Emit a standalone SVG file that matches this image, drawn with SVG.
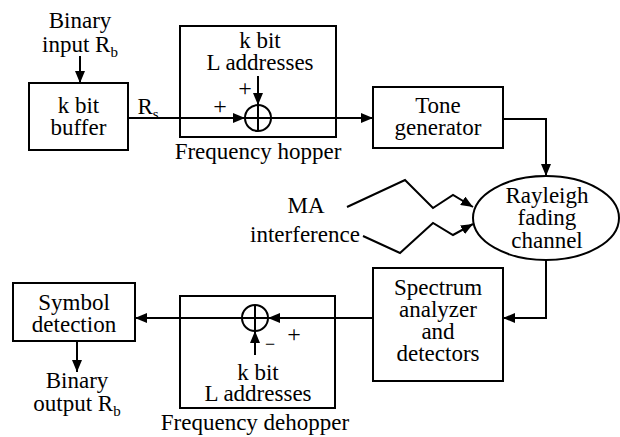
<svg xmlns="http://www.w3.org/2000/svg" width="620" height="437" viewBox="0 0 620 437">
<style>
text{font-family:"Liberation Serif","Times New Roman",serif;font-size:23px;fill:#000;text-anchor:middle}
.sub{font-size:15px}
.box{fill:#fff;stroke:#000;stroke-width:2}
.frame{fill:none;stroke:#000;stroke-width:2}
.ln{fill:none;stroke:#000;stroke-width:2}
.pm{font-size:24px}
</style>
<defs>
<marker id="ah" viewBox="0 0 12 10" refX="12" refY="5" markerWidth="12" markerHeight="10" markerUnits="userSpaceOnUse" orient="auto">
<path d="M0,0 L12,5 L0,10 Z" fill="#000"/>
</marker>
</defs>
<rect width="620" height="437" fill="#fff"/>

<g id="connectors">
<line class="ln" x1="80" y1="56" x2="80" y2="83" marker-end="url(#ah)"/>
<line class="ln" x1="128" y1="118" x2="245" y2="118" marker-end="url(#ah)"/>
<line class="ln" x1="258" y1="76" x2="258" y2="105" marker-end="url(#ah)"/>
<line class="ln" x1="271" y1="118" x2="373" y2="118" marker-end="url(#ah)"/>
<polyline class="ln" points="503,119 546,119 546,176" marker-end="url(#ah)"/>
<polyline class="ln" points="347,207 405,180 433,208 453,195 473,207" marker-end="url(#ah)"/>
<polyline class="ln" points="363,236 400,253 433,223 453,235 473,224" marker-end="url(#ah)"/>
<polyline class="ln" points="546,260 546,318 503,318" marker-end="url(#ah)"/>
<line class="ln" x1="373" y1="318" x2="268" y2="318" marker-end="url(#ah)"/>
<line class="ln" x1="242" y1="318" x2="135" y2="318" marker-end="url(#ah)"/>
<line class="ln" x1="255" y1="355" x2="255" y2="331" marker-end="url(#ah)"/>
<line class="ln" x1="77" y1="341" x2="77" y2="372" marker-end="url(#ah)"/>
</g>

<g id="binary-input">
<text x="80" y="28">Binary</text>
<text x="80" y="52">input R<tspan class="sub" dy="5">b</tspan></text>
</g>

<g id="buffer">
<rect class="box" x="29" y="83" width="99" height="67"/>
<text x="78.5" y="113">k bit</text>
<text x="78.5" y="135">buffer</text>
</g>

<g id="rs-label">
<text x="148" y="114">R<tspan class="sub" dy="5">s</tspan></text>
</g>

<g id="frequency-hopper">
<rect class="frame" x="180" y="26" width="156" height="111"/>
<text x="260" y="48">k bit</text>
<text x="260" y="70">L addresses</text>
<text class="pm" x="245" y="96">+</text>
<text class="pm" x="220" y="114">+</text>
<circle class="ln" cx="258" cy="118" r="13"/>
<line class="ln" x1="245" y1="118" x2="271" y2="118"/>
<line class="ln" x1="258" y1="105" x2="258" y2="131"/>
<text x="258" y="159">Frequency hopper</text>
</g>

<g id="tone-generator">
<rect class="box" x="373" y="87" width="130" height="61"/>
<text x="438" y="113">Tone</text>
<text x="438" y="135">generator</text>
</g>

<g id="ma-interference">
<text x="306" y="213">MA</text>
<text x="305" y="242">interference</text>
</g>

<g id="rayleigh-channel">
<ellipse class="box" cx="546" cy="218" rx="73" ry="42"/>
<text x="547" y="203">Rayleigh</text>
<text x="547" y="225">fading</text>
<text x="547" y="248">channel</text>
</g>

<g id="spectrum-analyzer">
<rect class="box" x="373" y="268" width="130" height="113"/>
<text x="438" y="295">Spectrum</text>
<text x="438" y="317">analyzer</text>
<text x="438" y="339">and</text>
<text x="438" y="361">detectors</text>
</g>

<g id="frequency-dehopper">
<rect class="frame" x="180" y="296" width="155" height="112"/>
<circle class="ln" cx="255" cy="318" r="13"/>
<line class="ln" x1="242" y1="318" x2="268" y2="318"/>
<line class="ln" x1="255" y1="305" x2="255" y2="331"/>
<text class="pm" x="294" y="342">+</text>
<text x="270" y="350" style="font-size:18px">−</text>
<text x="258" y="380">k bit</text>
<text x="258" y="401">L addresses</text>
<text x="255" y="430">Frequency dehopper</text>
</g>

<g id="symbol-detection">
<rect class="box" x="13" y="283" width="122" height="58"/>
<text x="74" y="310">Symbol</text>
<text x="74" y="332">detection</text>
</g>

<g id="binary-output">
<text x="77" y="388">Binary</text>
<text x="77" y="411">output R<tspan class="sub" dy="5">b</tspan></text>
</g>
</svg>
